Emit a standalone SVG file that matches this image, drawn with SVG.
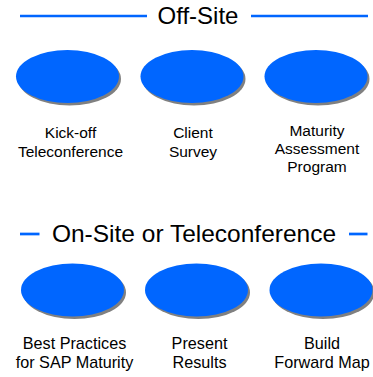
<svg xmlns="http://www.w3.org/2000/svg" width="373" height="377" viewBox="0 0 373 377">
  <style>
    .rule { stroke: #0066ff; stroke-width: 2.7; fill: none; }
    .head { font-family: "Liberation Sans", Arial, sans-serif; font-size: 24px; fill: #000; text-anchor: middle; }
    .label { font-family: "Liberation Sans", Arial, sans-serif; font-size: 15.5px; fill: #000; text-anchor: middle; }
    .label2 { font-family: "Liberation Sans", Arial, sans-serif; font-size: 16.2px; fill: #000; text-anchor: middle; }
    .shadow { fill: #808080; }
    .disc { fill: #0066ff; }
  </style>
  <defs>
    <g id="step">
      <ellipse class="shadow" cx="2" cy="2.5" rx="51.5" ry="26.5"/>
      <ellipse class="disc" cx="0" cy="0" rx="51.5" ry="26.5"/>
    </g>
  </defs>

  <!-- section rules -->
  <g id="connectors">
    <line class="rule" x1="20" y1="16" x2="147" y2="16"/>
    <line class="rule" x1="251" y1="16" x2="368" y2="16"/>
    <line class="rule" x1="20" y1="234" x2="39.5" y2="234"/>
    <line class="rule" x1="349" y1="234" x2="367.5" y2="234"/>
  </g>

  <g id="heading-offsite">
    <text class="head" x="198" y="24">Off-Site</text>
  </g>
  <g id="heading-onsite">
    <text class="head" x="194" y="242" style="font-size:24.5px">On-Site or Teleconference</text>
  </g>

  <!-- off-site steps -->
  <g id="kickoff">
    <use href="#step" x="67.5" y="76.5"/>
    <text class="label" x="70.5" y="138">Kick-off</text>
    <text class="label" x="70.5" y="156.5">Teleconference</text>
  </g>
  <g id="survey">
    <use href="#step" x="192" y="76.5"/>
    <text class="label" x="193" y="138">Client</text>
    <text class="label" x="193" y="156.5">Survey</text>
  </g>
  <g id="assessment">
    <use href="#step" x="316" y="76.5"/>
    <text class="label" x="317" y="136">Maturity</text>
    <text class="label" x="317" y="154">Assessment</text>
    <text class="label" x="317" y="172">Program</text>
  </g>

  <!-- on-site steps -->
  <g id="best-practices">
    <use href="#step" x="72.5" y="290"/>
    <text class="label2" x="74.5" y="348.5">Best Practices</text>
    <text class="label2" x="74.5" y="368">for SAP Maturity</text>
  </g>
  <g id="results">
    <use href="#step" x="196.5" y="290"/>
    <text class="label2" x="199.5" y="348.5">Present</text>
    <text class="label2" x="199.5" y="368">Results</text>
  </g>
  <g id="forward-map">
    <use href="#step" x="321" y="290"/>
    <text class="label2" x="322" y="348.5">Build</text>
    <text class="label2" x="322" y="368">Forward Map</text>
  </g>
</svg>
